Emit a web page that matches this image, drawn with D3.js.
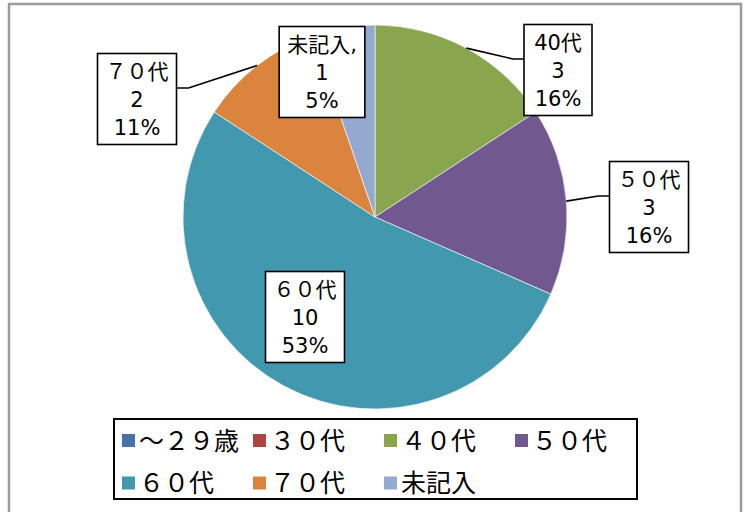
<!DOCTYPE html>
<html>
<head>
<meta charset="utf-8">
<script src="https://cdn.jsdelivr.net/npm/d3@7"></script>
<style>
  body { margin: 0; background: #fff; }
  svg { display: block; font-family: "Noto Sans CJK JP", sans-serif; }
  .dlabel text { font-family: "DejaVu Sans", "Noto Sans CJK JP", sans-serif; }
</style>
</head>
<body>
<svg id="chart"></svg>
<script>
// categories as shown in the legend, values (people), label titles
const categories = ['～２９歳', '３０代', '４０代', '５０代', '６０代', '７０代', '未記入'];
const values = [0, 0, 3, 3, 10, 2, 1];
const labelNames = ['～２９歳', '３０代', '40代', '５０代', '６０代', '７０代', '未記入,'];
const colors = ['#4572a7', '#aa4643', '#89a54e', '#71588f', '#4198af', '#db843d', '#93a9cf'];

// where the data label boxes sit (centre of box), by category
const labelLayout = {
  '40代': { cx: 558, cy: 70, leader: true },
  '５０代': { cx: 649, cy: 207, leader: true },
  '６０代': { cx: 305, cy: 317, leader: false },
  '７０代': { cx: 137, cy: 99, leader: true },
  '未記入,': { cx: 322, cy: 72, leader: false }
};

const width = 749;
const height = 512;
const radius = 192;
const center = { x: 375, y: 217 };

const svg = d3.select('#chart')
  .attr('width', width)
  .attr('height', height);

// outer chart frame (bottom edge runs off the picture)
svg.append('rect')
  .attr('x', 9)
  .attr('y', 4)
  .attr('width', 732)
  .attr('height', 540)
  .attr('fill', '#fff')
  .attr('stroke', '#9c9c9c')
  .attr('stroke-width', 2.5);

const color = d3.scaleOrdinal()
  .domain(categories)
  .range(colors);

const total = d3.sum(values);
const rows = categories.map((c, i) => ({ category: c, label: labelNames[i], value: values[i] }));

const pie = d3.pie()
  .sort(null)
  .value(d => d.value);

const arc = d3.arc()
  .innerRadius(0)
  .outerRadius(radius);

const edgeArc = d3.arc()
  .innerRadius(radius)
  .outerRadius(radius);

const arcs = pie(rows);

const g = svg.append('g')
  .attr('transform', `translate(${center.x},${center.y})`);

g.selectAll('.slice')
  .data(arcs.filter(d => d.value > 0))
  .enter()
  .append('path')
  .attr('class', 'slice')
  .attr('d', arc)
  .attr('fill', d => color(d.data.category))
  .attr('stroke', '#fff')
  .attr('stroke-width', 0.6);

// data labels: name / value / percent in a boxed callout
const fmtPct = v => `${Math.round(v / total * 100)}%`;
const lineGap = 28;

const labels = svg.selectAll('.dlabel')
  .data(arcs.filter(d => d.value > 0))
  .enter()
  .append('g')
  .attr('class', 'dlabel');

labels.each(function (d) {
  const lay = labelLayout[d.data.label];
  const node = d3.select(this);
  const lines = [d.data.label, String(d.value), fmtPct(d.value)];

  const box = node.append('rect')
    .attr('fill', '#fff')
    .attr('stroke', '#000')
    .attr('stroke-width', 1.6);

  const texts = lines.map((t, i) => node.append('text')
    .attr('text-anchor', 'middle')
    .attr('font-size', 21)
    .attr('fill', '#000')
    .attr('x', lay.cx)
    .attr('y', lay.cy + (i - 1) * lineGap)
    .attr('dy', '0.36em')
    .text(t));

  const tw = d3.max(texts, t => t.node().getComputedTextLength());
  const bw = Math.max(tw + 16, 68);
  const bh = 91;
  box.attr('x', lay.cx - bw / 2)
    .attr('y', lay.cy - bh / 2)
    .attr('width', bw)
    .attr('height', bh);

  if (lay.leader) {
    const [px, py] = edgeArc.centroid(d);
    const sx = center.x + px;
    const sy = center.y + py;
    const onLeft = lay.cx < center.x;
    const bx = onLeft ? lay.cx + bw / 2 : lay.cx - bw / 2;
    const by = lay.cy - 11;
    const ex = onLeft ? bx + 12 : bx - 11;
    node.insert('path', 'rect')
      .attr('d', d3.line()([[sx, sy], [ex, by], [bx, by]]))
      .attr('fill', 'none')
      .attr('stroke', '#000')
      .attr('stroke-width', 1.6);
  }
});

// legend
const legend = svg.append('g');
legend.append('rect')
  .attr('x', 114)
  .attr('y', 419)
  .attr('width', 523)
  .attr('height', 80)
  .attr('fill', '#fff')
  .attr('stroke', '#000')
  .attr('stroke-width', 2);

const colX = d3.scaleLinear().domain([0, 1]).range([122, 253]);
const rowY = d3.scaleLinear().domain([0, 1]).range([440.5, 483]);

const items = legend.selectAll('.item')
  .data(categories)
  .enter()
  .append('g')
  .attr('class', 'item')
  .attr('transform', (d, i) => `translate(${colX(i % 4)},${rowY(Math.floor(i / 4))})`);

items.append('rect')
  .attr('x', 0)
  .attr('y', -6.5)
  .attr('width', 13)
  .attr('height', 13)
  .attr('fill', d => color(d));

items.append('text')
  .attr('x', 17)
  .attr('dy', '0.36em')
  .attr('font-size', 25)
  .attr('fill', '#000')
  .text(d => d);
</script>
</body>
</html>
